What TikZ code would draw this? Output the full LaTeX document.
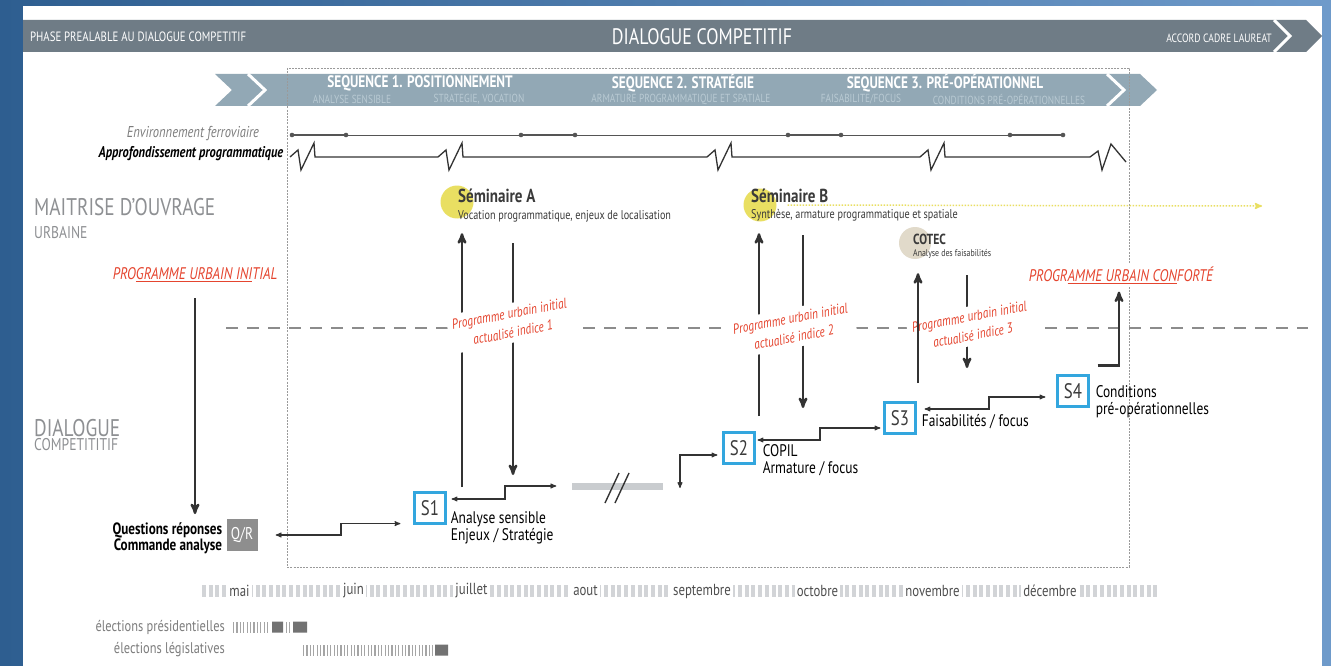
\documentclass[tikz,border=0pt]{standalone}
\usepackage{fontspec}
\setmainfont{PT Sans}[FakeStretch=0.8]
\usepackage{tikz}
\usetikzlibrary{arrows,positioning}

\definecolor{bgleft}{HTML}{2E5E90}
\definecolor{bgright}{HTML}{6E9ACA}
\definecolor{barone}{HTML}{6F7C86}
\definecolor{bartwo}{HTML}{92A8B5}
\definecolor{subseq}{HTML}{B9CAD3}
\definecolor{framegray}{HTML}{9A9A9A}
\definecolor{railgray}{HTML}{555555}
\definecolor{darktext}{HTML}{3A3A3A}
\definecolor{titlegray}{HTML}{8E9093}
\definecolor{progred}{HTML}{E5452F}
\definecolor{sblue}{HTML}{33A6DE}
\definecolor{semyellow}{HTML}{E9DF62}
\definecolor{cotecbeige}{HTML}{E1DACA}
\definecolor{arrowgray}{HTML}{333333}
\definecolor{sepgray}{HTML}{8C8C8C}
\definecolor{monthtick}{HTML}{D2D4D7}
\definecolor{monthtext}{HTML}{4F4F4F}
\definecolor{electext}{HTML}{7D7D7D}
\definecolor{electick}{HTML}{A5A5A5}
\definecolor{elecblock}{HTML}{727272}
\definecolor{gapgray}{HTML}{C9CCCF}
\definecolor{qrgray}{HTML}{8E8E8E}

\begin{document}
\begin{tikzpicture}[x=1pt, y=-1pt, >=stealth', every node/.style={inner sep=0pt},
	chevron/.style={draw=white, line width=3pt},
	phasetxt/.style={text=white, font=\fontsize{13.5}{14}\selectfont},
	titletxt/.style={text=white, font=\fontsize{22.4}{23}\selectfont},
	seqtxt/.style={text=white, font=\fontsize{16.6}{17}\selectfont\bfseries},
	subseqtxt/.style={text=subseq, font=\fontsize{11.7}{12}\selectfont},
	framedash/.style={draw=framegray, line width=0.9pt, dash pattern=on 2pt off 1.2pt},
	railline/.style={draw=railgray, line width=0.8pt},
	railseg/.style={draw=railgray, line width=2.2pt},
	progline/.style={draw=arrowgray, line width=1.3pt},
	envtxt/.style={text=electext, font=\fontsize{15.7}{16}\selectfont\itshape},
	approtxt/.style={text=black, font=\fontsize{15.5}{16}\selectfont\bfseries\itshape},
	bigtitle/.style={text=titlegray, font=\fontsize{24.1}{25}\selectfont},
	subtitle/.style={text=titlegray, font=\fontsize{17}{18}\selectfont},
	progtxt/.style={text=progred, font=\fontsize{16.8}{17}\selectfont\itshape},
	redtxt/.style={text=progred, fill=white, inner sep=5pt, align=center, font=\fontsize{14.3}{19}\selectfont\itshape},
	sepdash/.style={draw=sepgray, line width=1.3pt, dash pattern=on 12pt off 9pt},
	semcircle/.style={circle, minimum size=33pt},
	semtitle/.style={text=darktext, font=\fontsize{18.8}{19}\selectfont\bfseries},
	semsub/.style={text=darktext, font=\fontsize{12.7}{13}\selectfont},
	cotectitle/.style={text=darktext, font=\fontsize{14.6}{15}\selectfont\bfseries},
	cotecsub/.style={text=darktext, font=\fontsize{9.8}{10}\selectfont},
	dotarrow/.style={->, draw=semyellow, line width=1.5pt, dash pattern=on 1.5pt off 1.5pt},
	sbox/.style={draw=sblue, line width=2.2pt, minimum width=31pt, minimum height=31pt, text=darktext, font=\fontsize{21}{21}\selectfont},
	steplab/.style={text=black, align=left, font=\fontsize{16.8}{17}\selectfont},
	qrbox/.style={fill=qrgray, text=white, minimum width=31pt, minimum height=32pt, font=\fontsize{17}{17}\selectfont},
	questtxt/.style={text=black, align=right, font=\fontsize{16.4}{15}\selectfont\bfseries},
	gapbar/.style={fill=gapgray, minimum width=91pt, minimum height=7pt},
	bigarrow/.style={->, draw=arrowgray, line width=2.4pt},
	stepline/.style={<->, draw=arrowgray, line width=1.1pt},
	monthticks/.style={draw=monthtick, line width=12pt, dash pattern=on 4pt off 2.7pt},
	month/.style={text=monthtext, fill=white, inner sep=2pt, minimum height=15pt, font=\fontsize{16}{17}\selectfont},
	electxt/.style={text=electext, font=\fontsize{15.5}{16}\selectfont},
	electicks/.style={draw=electick, line width=11pt, dash pattern=on 1.2pt off 2.2pt}]

	% Background and panel
	\useasboundingbox (0,0) rectangle (1331,666);
	\shade[left color=bgleft, right color=bgright] (0,0) rectangle (1331,666);
	\fill[white] (23,6) rectangle (1322,666);

	% Phase bars
	\fill[barone] (23,20) -- (1306,20) -- (1322,36) -- (1306,52) -- (23,52) -- cycle;
	\draw[chevron] (1274,20) -- (1290,36) -- (1274,52);
	\fill[bartwo] (215,74) -- (1140,74) -- (1157,90) -- (1140,106) -- (215,106) -- (232,90) -- cycle;
	\draw[chevron] (248,74) -- (265,90) -- (248,106);
	\draw[chevron] (1107,74) -- (1124,90) -- (1107,106);

	\node [phasetxt, anchor=west] (phase)  at (30,37)   {PHASE PREALABLE AU DIALOGUE COMPETITIF};
	\node [titletxt]              (dialog) at (702,37)  {DIALOGUE COMPETITIF};
	\node [phasetxt, anchor=east, font=\fontsize{12}{13}\selectfont] (accord) at (1272,38) {ACCORD CADRE LAUREAT};
	\node [seqtxt]    (seq1) at (420,83)  {SEQUENCE 1. POSITIONNEMENT};
	\node [seqtxt]    (seq2) at (683,83)  {SEQUENCE 2. STRATÉGIE};
	\node [seqtxt]    (seq3) at (945,83)  {SEQUENCE 3. PRÉ-OPÉRATIONNEL};
	\node [subseqtxt] (sub1) at (352,99)  {ANALYSE SENSIBLE};
	\node [subseqtxt] (sub2) at (479,99)  {STRATEGIE, VOCATION};
	\node [subseqtxt] (sub3) at (681,99)  {ARMATURE PROGRAMMATIQUE ET SPATIALE};
	\node [subseqtxt] (sub4) at (861,99)  {FAISABILITE/FOCUS};
	\node [subseqtxt] (sub5) at (1009,99) {CONDITIONS PRÉ-OPÉRATIONNELLES};

	% Dialogue frame
	\draw[framedash] (287,68) rectangle (1129,567);

	% Railway and programme lines
	\node [envtxt]   (env)   at (193,134) {Environnement ferroviaire};
	\node [approtxt] (appro) at (191,154) {Approfondissement programmatique};
	\draw[railline] (292,135) -- (1063,135);
	\draw[railseg]  (292,135) -- (346,135)
	                (521,135) -- (575,135)
	                (788,135) -- (841,135)
	                (1010,135) -- (1063,135);
	\fill[railgray] (292,135) circle (2.3) (346,135) circle (2.3)
	                (521,135) circle (2.3) (575,135) circle (2.3)
	                (788,135) circle (2.3) (841,135) circle (2.3)
	                (1010,135) circle (2.3) (1063,135) circle (2.3);
	\draw[progline] (290,157) -- ++(8,-7) -- ++(3,20) -- ++(13,-27) -- ++(1,14)
	             -- (438,157) -- ++(8,-7) -- ++(3,20) -- ++(13,-27) -- ++(1,14)
	             -- (707,157) -- ++(8,-7) -- ++(3,20) -- ++(13,-27) -- ++(1,14)
	             -- (920,157) -- ++(8,-7) -- ++(3,20) -- ++(13,-27) -- ++(1,14)
	             -- (1090,157) -- ++(8,-6) -- ++(4,19) -- ++(9,-26) -- ++(15,18);

	% Side titles
	\node [bigtitle, anchor=west] (moa)    at (34,207) {MAITRISE D’OUVRAGE};
	\node [subtitle, anchor=west] (moasub) at (34,233) {URBAINE};
	\node [bigtitle, anchor=west] (dc)     at (34,428) {DIALOGUE};
	\node [subtitle, anchor=west] (dcsub)  at (34,445) {COMPETITITIF};

	% Separator
	\draw[sepdash] (226,328) -- (1308,328);

	% Programme nodes
	\node [progtxt] (pinit) at (195,275) {PRO\underline{GRAMME URBAIN INI}TIAL};
	\node [progtxt, fill=white, inner sep=3pt] (pconf) at (1121,275) {PROGR\underline{AMME URBAIN CON}FORTÉ};

	% Seminaires
	\node [semcircle, fill=semyellow]  (semA) at (457,202) {};
	\node [semtitle, anchor=west] (semAt) at (458,196) {Séminaire A};
	\node [semsub, anchor=west]   (semAs) at (458,216) {Vocation programmatique, enjeux de localisation};
	\node [semcircle, fill=semyellow]  (semB) at (760,205) {};
	\node [semtitle, anchor=west] (semBt) at (751,196) {Séminaire B};
	\node [semsub, anchor=west]   (semBs) at (751,215) {Synthèse, armature programmatique et spatiale};
	\node [semcircle, fill=cotecbeige, minimum size=32pt] (cotec) at (915,243) {};
	\node [cotectitle, anchor=west] (cotect) at (913,239) {COTEC};
	\node [cotecsub, anchor=west]   (cotecs) at (913,254) {Analyse des faisabilités};
	\coordinate (dotend) at (1262,206);
	\draw[dotarrow] ([xshift=11pt]semB.east) -- (dotend);

	% Steps S1 .. S4
	\node [sbox] (S1) at (430,508) {S1};
	\node [sbox] (S2) at (739,448) {S2};
	\node [sbox] (S3) at (900,418) {S3};
	\node [sbox] (S4) at (1073,391) {S4};
	\node [steplab, right=4pt of S1, yshift=-20pt] (S1lab) {Analyse sensible\\Enjeux / Stratégie};
	\node [steplab, right=7pt of S2, yshift=-12pt] (S2lab) {COPIL\\Armature / focus};
	\node [steplab, right=5pt of S3, yshift=-4pt]  (S3lab) {Faisabilités / focus};
	\node [steplab, right=6pt of S4, yshift=-11pt] (S4lab) {Conditions\\pré-opérationnelles};

	% Questions / reponses
	\node [qrbox] (qr) at (242,535) {Q/R};
	\node [questtxt, left=4pt of qr, yshift=-3pt] (quest) {Questions réponses\\Commande analyse};
	\node [gapbar] (gap) at (617,486) {};
	\draw[arrowgray, line width=1.4pt] (605,503) -- (619,473) (615,503) -- (629,473);

	% Step connectors
	\coordinate (qrstep)  at (341,529);
	\coordinate (s1step)  at (505,493);
	\coordinate (gapdrop) at (680,488);
	\coordinate (s2step)  at (820,434);
	\coordinate (s3step)  at (989,403);
	\draw[stepline] ([xshift=18pt]qr.east) -| (qrstep) |- ([xshift=-13pt,yshift=1pt]S1.south west);
	\draw[stepline] ([xshift=5pt,yshift=9pt]S1.east) -| (s1step) |- ([xshift=-15pt]gap.west);
	\draw[stepline] (gapdrop) |- ([xshift=-5pt,yshift=-7pt]S2.west);
	\draw[stepline] ([xshift=2pt,yshift=8pt]S2.east) -| (s2step) |- ([xshift=-3pt,yshift=-10pt]S3.west);
	\draw[stepline] ([xshift=8pt,yshift=9pt]S3.east) -| (s3step) |- ([xshift=-11pt,yshift=-6pt]S4.west);
	\draw[bigarrow] ([xshift=8pt,yshift=9pt]S4.north east) -| ([xshift=-2pt,yshift=-5pt]pconf.south);

	% Vertical arrows
	\coordinate (aup)   at (462,487);
	\coordinate (adown) at (513,475);
	\coordinate (bup)   at (759,416);
	\coordinate (bdown) at (803,408);
	\coordinate (cup)   at (918,383);
	\coordinate (cdown) at (967,368);
	\draw[bigarrow, shorten <=16pt, shorten >=8pt] (pinit.south) -- (pinit.south |- quest.north);
	\draw[bigarrow, shorten >=14.5pt] (aup) -- (aup |- semA.south);
	\draw[bigarrow, shorten <=24.5pt] (adown |- semA.south) -- (adown);
	\draw[bigarrow, shorten >=11.5pt] (bup) -- (bup |- semB.south);
	\draw[bigarrow, shorten <=13.5pt] (bdown |- semB.south) -- (bdown);
	\draw[bigarrow, shorten <=16pt] (cdown |- cotec.south) -- (cdown);

	% Updated programme labels
	\node [redtxt, rotate=11] (ind1) at (511,323) {Programme urbain initial\\actualisé indice 1};
	\node [redtxt, rotate=11] (ind2) at (792,328) {Programme urbain initial\\actualisé indice 2};
	\node [redtxt, rotate=11] (ind3) at (971,326) {Programme urbain initial\\actualisé indice 3};
	\draw[bigarrow, shorten >=14pt] (cup) -- (cup |- cotec.south);

	% Months
	\draw[monthticks] (202,591) -- (1160,591);
	\node [month] (mai)  at (239.5,591) {mai};
	\node [month] (juin) at (353.5,591) {juin};
	\node [month] (juil) at (471.5,591) {juillet};
	\node [month] (aout) at (585.5,591) {aout};
	\node [month] (sept) at (702,591)   {septembre};
	\node [month] (oct)  at (817.5,591) {octobre};
	\node [month] (nov)  at (932.5,591) {novembre};
	\node [month] (dec)  at (1050,591)  {décembre};

	% Elections
	\node [electxt, anchor=east] (pres)  at (225,627) {élections présidentielles};
	\node [electxt, anchor=east] (legis) at (225,650) {élections législatives};
	\draw[electicks] (233,627) -- (270,627) (286,627) -- (290,627) (303,650) -- (435,650);
	\fill[elecblock] (272,621.5) rectangle (283,632.5) (293,621.5) rectangle (307,632.5)
	                 (435,644.5) rectangle (448,655.5);
\end{tikzpicture}
\end{document}
